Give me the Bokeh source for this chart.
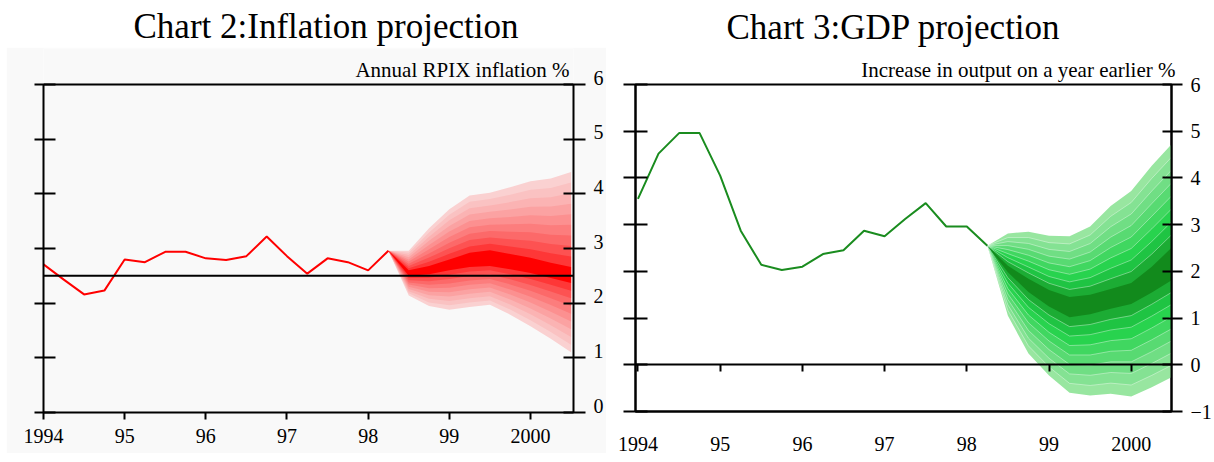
from bokeh.plotting import figure
from bokeh.layouts import row, column
from bokeh.models import (Range1d, LinearAxis, FixedTicker, Span, Title, Spacer, Label)
from bokeh.embed import file_html
from bokeh.resources import INLINE

FONT = "Liberation Serif"
BG = "#f9f9f9"

# ---------------- data ----------------
hist_dates = [1994.0, 1994.25, 1994.5, 1994.75, 1995.0, 1995.25, 1995.5, 1995.75,
              1996.0, 1996.25, 1996.5, 1996.75, 1997.0, 1997.25, 1997.5, 1997.75,
              1998.0, 1998.25]
infl_values = [2.71, 2.43, 2.16, 2.23, 2.80, 2.75, 2.94, 2.94, 2.82, 2.79, 2.86, 3.22,
               2.86, 2.54, 2.82, 2.75, 2.60, 2.96]
gdp_values = [3.55, 4.52, 4.96, 4.96, 4.05, 2.87, 2.14, 2.03, 2.10, 2.37, 2.45, 2.87,
              2.75, 3.12, 3.46, 2.96, 2.96, 2.55]

fan_dates = [1998.25, 1998.5, 1998.75, 1999.0, 1999.25, 1999.5, 1999.75, 2000.0, 2000.25, 2000.5]

infl_outer_hi = [2.96, 2.96, 3.37, 3.72, 3.97, 4.02, 4.12, 4.23, 4.28, 4.40]
infl_outer_lo = [2.96, 2.14, 1.95, 1.88, 1.93, 1.97, 1.79, 1.58, 1.35, 1.10]
infl_central_hi = [2.96, 2.60, 2.68, 2.80, 2.92, 2.97, 2.90, 2.83, 2.74, 2.66]
infl_central_lo = [2.96, 2.50, 2.53, 2.60, 2.66, 2.68, 2.62, 2.55, 2.46, 2.37]

gdp_outer_hi = [2.55, 2.81, 2.85, 2.76, 2.75, 2.96, 3.40, 3.72, 4.26, 4.74]
gdp_outer_lo = [2.55, 1.05, 0.24, -0.23, -0.60, -0.66, -0.62, -0.68, -0.48, -0.26]
gdp_central_hi = [2.55, 2.12, 1.84, 1.60, 1.45, 1.50, 1.62, 1.75, 2.10, 2.52]
gdp_central_lo = [2.55, 1.98, 1.56, 1.25, 1.02, 1.08, 1.20, 1.30, 1.55, 1.82]

year_ticks = [1994, 1995, 1996, 1997, 1998, 1999, 2000]
year_labels = ["1994", "95", "96", "97", "98", "99", "2000"]
infl_y_ticks = [0, 1, 2, 3, 4, 5, 6]
gdp_y_ticks = [-1, 0, 1, 2, 3, 4, 5, 6]
infl_target = 2.5

red_shades = ["#fad1d1", "#fac2c2", "#fbb3b3", "#fba2a2", "#fc9090",
              "#fc7d7d", "#fc6969", "#fd5252", "#fe3737"]
red_center = "#ff0000"
green_shades = ["#98e6a0", "#84e293", "#70de84", "#58da72", "#40d760",
                "#28d34e", "#1fc443", "#1cac34"]
green_center = "#128a1c"


# ---------------- helpers ----------------
def style_axis(ax, tin, tout):
    ax.axis_line_width = 2
    ax.axis_line_color = "black"
    ax.major_tick_line_width = 2
    ax.major_tick_line_color = "black"
    ax.major_tick_in = tin
    ax.major_tick_out = tout
    ax.minor_tick_line_color = None
    ax.major_label_text_font = FONT
    ax.major_label_text_font_size = "20px"
    ax.major_label_text_color = "black"


def blank_labels(ax, ticks):
    ax.major_label_overrides = {t: "" for t in ticks}
    ax.major_label_standoff = 0


def year_axis(ax, standoff, tout):
    ax.ticker = FixedTicker(ticks=year_ticks)
    style_axis(ax, 0, tout)
    ax.major_label_overrides = dict(zip(year_ticks, year_labels))
    ax.major_label_standoff = standoff


def draw_fan(p, x, c_lo, c_hi, o_lo, o_hi, shades, center, edge=None):
    n = len(shades)
    for k, col in enumerate(shades):
        f = (n - k) / n
        lo = [c - (c - o) * f for c, o in zip(c_lo, o_lo)]
        hi = [c + (o - c) * f for c, o in zip(c_hi, o_hi)]
        p.varea(x=x, y1=lo, y2=hi, fill_color=col)
        if edge and k > 0:
            p.line(x, lo, line_color=edge, line_width=0.7, line_alpha=0.55)
            p.line(x, hi, line_color=edge, line_width=0.7, line_alpha=0.55)
    p.varea(x=x, y1=c_lo, y2=c_hi, fill_color=center)


def title_fig(width, text, offset, standoff):
    t = figure(width=width, height=47, x_axis_type=None, y_axis_type=None,
               toolbar_location=None, output_backend="svg",
               min_border_top=46, min_border_bottom=0, min_border_left=0, min_border_right=0,
               outline_line_color=None, x_range=Range1d(0, 1), y_range=Range1d(0, 1))
    t.add_layout(Title(text=text, align="left", offset=offset, standoff=standoff,
                       vertical_align="bottom", text_font=FONT, text_font_size="35px",
                       text_font_style="normal", text_color="black"), "above")
    return t


# ---------------- Chart 2: inflation ----------------
x1_end = 2000.53
y1_top = 6 * (328 + 36) / 328          # room above the scale for the caption
p1 = figure(frame_width=530, frame_height=364, x_range=Range1d(1994, x1_end),
            y_range=Range1d(0, y1_top), toolbar_location=None, output_backend="svg",
            min_border_left=37, min_border_right=0, min_border_top=1, min_border_bottom=41,
            background_fill_color=BG, border_fill_color=BG, outline_line_color=None)
p1.grid.visible = False
year_axis(p1.xaxis[0], 9, 7)
ya = p1.yaxis[0]
ya.ticker = FixedTicker(ticks=infl_y_ticks)
ya.bounds = (0, 6)
style_axis(ya, 12, 9)
blank_labels(ya, infl_y_ticks)

ra = LinearAxis(ticker=FixedTicker(ticks=infl_y_ticks), bounds=(0, 6))
style_axis(ra, 10, 12)
blank_labels(ra, infl_y_ticks)
p1.add_layout(ra, "right")

# labels of the right scale sit a little above their ticks: a label-only axis on a shifted range
shift = 7 * 6 / 328
p1.extra_y_ranges = {"labels": Range1d(-shift, y1_top - shift)}
la = LinearAxis(y_range_name="labels", ticker=FixedTicker(ticks=infl_y_ticks))
style_axis(la, 0, 0)
la.axis_line_color = None
la.major_tick_line_color = None
la.major_label_standoff = 8
p1.add_layout(la, "right")

draw_fan(p1, fan_dates, infl_central_lo, infl_central_hi, infl_outer_lo, infl_outer_hi,
         red_shades, red_center)
p1.line(hist_dates, infl_values, line_color="#ff0000", line_width=2)
p1.add_layout(Span(location=infl_target, dimension="width", line_color="black", line_width=2))
p1.add_layout(Span(location=6, dimension="width", line_color="black", line_width=2))
p1.add_layout(Label(x=x1_end, y=6, x_offset=-4, y_offset=15, text="Annual RPIX inflation %",
                    text_align="right", text_baseline="alphabetic", text_font=FONT,
                    text_font_size="21px", text_color="black"))

t1 = title_fig(597, "Chart 2:Inflation projection", 90, 2)

# ---------------- Chart 3: GDP ----------------
x2_start, x2_end = 1993.97, 2000.49
p2 = figure(frame_width=536, frame_height=327, x_range=Range1d(x2_start, x2_end),
            y_range=Range1d(-1, 6), toolbar_location=None, output_backend="svg",
            min_border_left=29, min_border_right=0, min_border_top=37, min_border_bottom=42,
            background_fill_color="white", border_fill_color="white",
            outline_line_color="black", outline_line_width=2)
p2.grid.visible = False
year_axis(p2.xaxis[0], 25, 0)
ya2 = p2.yaxis[0]
ya2.ticker = FixedTicker(ticks=gdp_y_ticks)
style_axis(ya2, 12, 12)
blank_labels(ya2, gdp_y_ticks)
ra2 = LinearAxis(ticker=FixedTicker(ticks=gdp_y_ticks))
style_axis(ra2, 9, 11)
ra2.major_label_standoff = 8
p2.add_layout(ra2, "right")
za = LinearAxis(fixed_location=0, ticker=FixedTicker(ticks=year_ticks))
style_axis(za, 0, 7)
blank_labels(za, year_ticks)
p2.add_layout(za, "below")

draw_fan(p2, fan_dates, gdp_central_lo, gdp_central_hi, gdp_outer_lo, gdp_outer_hi,
         green_shades, green_center, edge="white")
p2.line(hist_dates, gdp_values, line_color="#1a8c1f", line_width=2)
p2.add_layout(Title(text="Increase in output on a year earlier %", align="right", offset=-4,
                    standoff=5, text_font=FONT, text_font_size="21px",
                    text_font_style="normal", text_color="black"), "above")

t2 = title_fig(600, "Chart 3:GDP projection", 91, 0)

layout = row(Spacer(width=6, height=10), column(t1, p1), column(t2, p2))
open("out.html", "w").write(file_html(layout, INLINE))
